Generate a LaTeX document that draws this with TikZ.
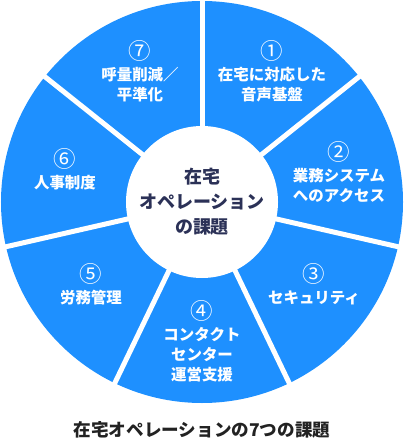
\documentclass[tikz,border=0pt]{standalone}
\usepackage{fontspec}
\setmainfont{Noto Sans CJK JP}
\usetikzlibrary{positioning}
\definecolor{wheelblue}{HTML}{1E90FF}
\definecolor{hubnavy}{HTML}{2B3157}
\definecolor{captiongray}{HTML}{222222}
\newcommand{\issuenum}[1]{{\fontsize{16}{16}\selectfont\mdseries #1}}
\tikzset{
  wheeldivider/.style={draw=white, line width=1.25mm},
  hubcircle/.style={circle, fill=white, minimum size=38mm, inner sep=0pt, align=center,
    text=hubnavy, font=\fontsize{12.8}{17.8}\selectfont\bfseries},
  issuebox/.style={align=center, text=white, inner sep=0pt,
    font=\fontsize{11}{14.2}\selectfont\bfseries},
  captionbox/.style={text=captiongray, font=\fontsize{12.5}{15}\selectfont\bfseries}
}
\begin{document}
\begin{tikzpicture}[x=0.25mm, y=0.25mm]
    \useasboundingbox (-202,-238) rectangle (203,202);
    \coordinate (hubc) at (0,0);
    \fill[wheelblue] (hubc) circle (201);
    \foreach \k in {0,...,6}
      \draw[wheeldivider] (hubc) -- ({90-\k*360/7}:204);
    \node[hubcircle] (hub) at (hubc) {在宅\\オペレーション\\の課題};
    \node[issuebox] (issue1) at (70,131) {\issuenum{①}\\[1pt]在宅に対応した\\音声基盤};
    \node[issuebox] (issue2) at (137,30) {\issuenum{②}\\[1pt]業務システム\\へのアクセス};
    \node[issuebox] (issue3) at (112,-82) {\issuenum{③}\\[1pt]セキュリティ};
    \node[issuebox] (issue4) at (0,-139) {\issuenum{④}\\[1pt]コンタクト\\センター\\運営支援};
    \node[issuebox] (issue5) at (-111,-82) {\issuenum{⑤}\\[1pt]労務管理};
    \node[issuebox] (issue6) at (-137,33) {\issuenum{⑥}\\[1pt]人事制度};
    \node[issuebox] (issue7) at (-62,131) {\issuenum{⑦}\\[1pt]呼量削減／\\平準化};
    \node[captionbox] (caption) at (0,-228) {在宅オペレーションの7つの課題};
  \end{tikzpicture}
\end{document}
